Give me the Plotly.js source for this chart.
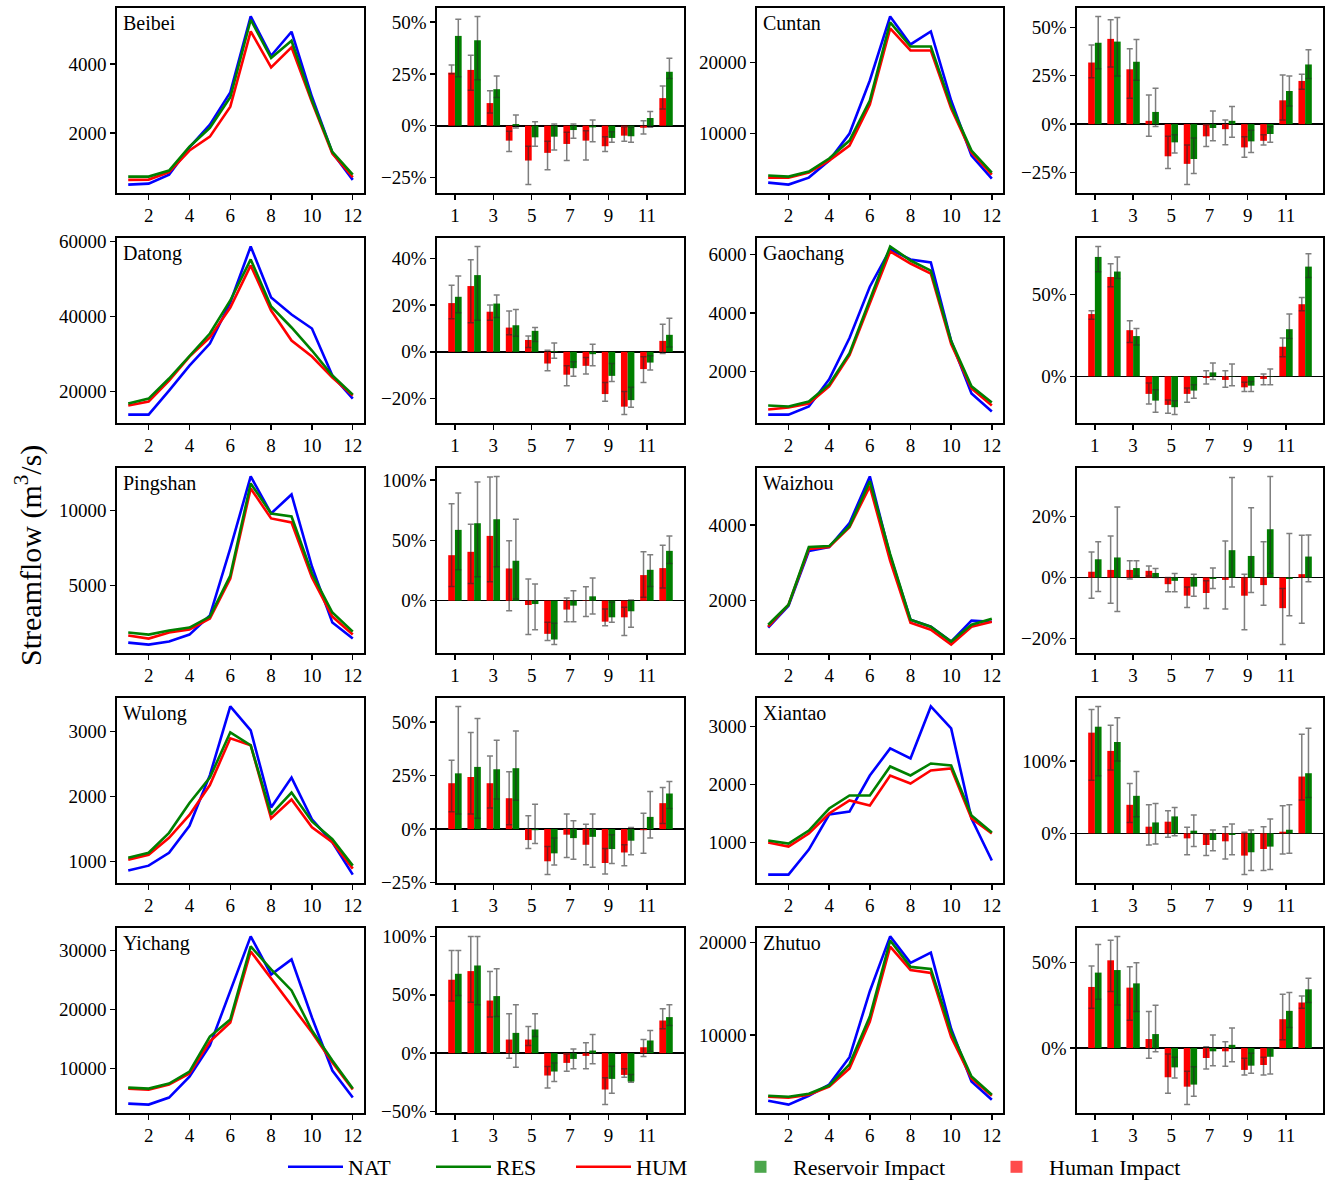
<!DOCTYPE html>
<html>
<head>
<meta charset="utf-8">
<script src="https://cdn.plot.ly/plotly-3.0.1.min.js"></script>
<style>html,body{margin:0;padding:0;background:#fff;}</style>
</head>
<body>
<div id="chart" style="width:1327px;height:1182px;"></div>
<script>
// Months on the x axis
const months = [1, 2, 3, 4, 5, 6, 7, 8, 9, 10, 11, 12];
const lineTicks = [2, 4, 6, 8, 10, 12];
const barTicks = [1, 3, 5, 7, 9, 11];
const stationNames = ['Beibei', 'Cuntan', 'Datong', 'Gaochang', 'Pingshan', 'Waizhou', 'Wulong', 'Xiantao', 'Yichang', 'Zhutuo'];

// Mean monthly streamflow (m3/s): natural (NAT), reservoir-regulated (RES), human-influenced (HUM)
const beibeiNAT = [502, 531, 792, 1585, 2242, 3179, 5382, 4241, 4937, 3050, 1430, 638];
const beibeiRES = [734, 734, 908, 1600, 2150, 3034, 5285, 4174, 4676, 2950, 1450, 792];
const beibeiHUM = [638, 647, 860, 1490, 1894, 2763, 4947, 3903, 4483, 2900, 1400, 715];

const cuntanNAT = [3100, 2820, 3800, 6200, 10000, 17470, 26480, 22540, 24370, 14650, 6900, 3660];
const cuntanRES = [4090, 3940, 4650, 6480, 9010, 14650, 25630, 22250, 22250, 13940, 7610, 4510];
const cuntanHUM = [3800, 3800, 4510, 6200, 8310, 14080, 24790, 21690, 21690, 13520, 7320, 4230];

const datongNAT = [13870, 13870, 20270, 26930, 32800, 43730, 58670, 45070, 40530, 36800, 24270, 18130];
const datongRES = [16800, 18130, 23470, 29600, 35470, 44270, 55200, 42670, 37070, 30930, 24270, 19200];
const datongHUM = [16270, 17330, 22930, 29330, 34400, 42400, 53600, 41600, 33600, 29330, 23730, 18930];

const gaochangNAT = [517, 517, 793, 1724, 3138, 4897, 6172, 5828, 5724, 3034, 1241, 621];
const gaochangRES = [828, 793, 966, 1552, 2621, 4414, 6276, 5793, 5448, 3034, 1483, 931];
const gaochangHUM = [690, 759, 897, 1483, 2552, 4310, 6103, 5690, 5345, 2931, 1414, 828];

const pingshanNAT = [1200, 1067, 1267, 1733, 3000, 7467, 12267, 9800, 11067, 6267, 2533, 1467];
const pingshanRES = [1867, 1733, 2000, 2200, 2933, 5667, 11800, 9800, 9600, 5800, 3200, 1933];
const pingshanHUM = [1667, 1467, 1867, 2067, 2800, 5467, 11467, 9467, 9200, 5533, 2933, 1733];

const waizhouNAT = [1289, 1868, 3316, 3421, 4053, 5289, 3184, 1500, 1316, 921, 1474, 1447];
const waizhouRES = [1368, 1895, 3421, 3447, 3974, 5158, 3237, 1500, 1316, 921, 1368, 1526];
const waizhouHUM = [1316, 1895, 3368, 3421, 3947, 5026, 3053, 1421, 1237, 842, 1316, 1447];

const wulongNAT = [863, 939, 1137, 1550, 2328, 3382, 3015, 1832, 2290, 1649, 1298, 802];
const wulongRES = [1061, 1137, 1443, 1901, 2290, 2985, 2786, 1725, 2061, 1618, 1344, 939];
const wulongHUM = [1031, 1107, 1366, 1718, 2176, 2893, 2786, 1664, 1954, 1527, 1298, 893];

const xiantaoNAT = [448, 448, 879, 1483, 1534, 2155, 2621, 2448, 3345, 2966, 1414, 690];
const xiantaoRES = [1034, 983, 1207, 1586, 1810, 1810, 2310, 2155, 2362, 2328, 1466, 1172];
const xiantaoHUM = [1000, 931, 1155, 1500, 1724, 1638, 2155, 2017, 2241, 2276, 1414, 1155];

const yichangNAT = [4070, 3900, 5090, 8640, 13900, 23220, 32370, 25930, 28480, 18640, 9660, 5090];
const yichangRES = [6780, 6610, 7460, 9490, 15420, 18310, 30680, 26780, 23220, 16440, 11360, 6610];
const yichangHUM = [6610, 6440, 7290, 9150, 14580, 17800, 29830, 25250, 20850, 16100, 11020, 6440];

const zhutuoNAT = [2860, 2450, 3410, 4620, 7580, 14730, 20660, 17800, 18900, 10660, 4950, 2970];
const zhutuoRES = [3410, 3300, 3630, 4510, 6810, 11980, 20220, 17360, 17140, 10330, 5500, 3520];
const zhutuoHUM = [3300, 3190, 3520, 4400, 6370, 11430, 19560, 17030, 16700, 9780, 5280, 3410];

// Relative impact on streamflow (%): mean with low / high bounds of the ensemble
const beibeiHumImp = [25.6, 26.9, 10.9, -7.2, -16.8, -13.1, -8.8, -7.2, -9.9, -4.8, -1.0, 13.3];
const beibeiHumLo  = [25.0, 17.1, 6.1, -12.5, -28.4, -21.3, -16.8, -16.5, -12.5, -7.5, -4.0, 8.0];
const beibeiHumHi  = [29.3, 34.0, 16.8, -2.7, -9.9, -7.5, -3.2, -2.4, -5.3, -0.5, 2.4, 19.2];
const beibeiResImp = [43.3, 41.2, 17.6, 0.8, -5.6, -5.3, -2.1, -0.8, -5.9, -5.1, 3.7, 26.0];
const beibeiResLo  = [23.6, 22.1, 13.6, -1.1, -9.9, -11.7, -6.1, -7.7, -8.0, -8.0, -0.8, 22.8];
const beibeiResHi  = [51.3, 52.7, 24.0, 5.1, 1.9, 0.8, 0.8, 2.7, -2.9, -0.8, 6.9, 32.5];

const cuntanHumImp = [31.8, 44.0, 28.3, 1.7, -16.6, -20.5, -6.3, -2.6, -12.0, -8.6, 12.3, 22.3];
const cuntanHumLo  = [24.0, 29.5, 13.4, -6.3, -22.9, -31.2, -11.6, -10.6, -17.1, -10.8, 2.1, 18.0];
const cuntanHumHi  = [40.8, 53.9, 38.9, 15.1, -6.3, -10.8, -0.3, 2.1, -6.5, -5.5, 25.3, 25.7];
const cuntanResImp = [42.0, 42.6, 32.2, 6.3, -9.4, -18.0, -2.0, 1.7, -8.9, -5.1, 17.1, 30.8];
const cuntanResLo  = [28.6, 24.8, 22.6, -1.2, -14.9, -25.5, -8.6, -6.8, -14.6, -9.4, 9.4, 23.6];
const cuntanResHi  = [55.6, 55.1, 43.7, 18.5, -5.5, -7.2, 6.8, 9.1, -3.1, -1.4, 24.8, 38.4];

const datongHumImp = [20.9, 28.2, 17.2, 10.4, 5.1, -5.0, -9.8, -6.0, -18.1, -23.5, -7.4, 4.7];
const datongHumLo  = [14.2, 12.5, 13.5, 7.3, 1.9, -8.1, -14.5, -9.5, -21.2, -26.9, -13.1, -0.7];
const datongHumHi  = [28.6, 39.5, 20.1, 17.5, 6.8, 0.7, -6.0, -2.4, -13.1, -17.0, -2.1, 11.8];
const datongResImp = [23.6, 32.9, 20.7, 11.4, 9.0, 0.3, -7.0, -1.0, -10.3, -20.7, -4.6, 7.3];
const datongResLo  = [16.8, 13.5, 14.7, 6.7, 4.4, -2.8, -10.5, -6.0, -12.7, -23.8, -7.8, 2.1];
const datongResHi  = [32.5, 45.2, 24.4, 18.2, 10.4, 3.8, -4.3, 3.3, -5.0, -15.2, -1.7, 14.4];

const gaochangHumImp = [37.9, 60.5, 28.1, -10.7, -17.4, -10.7, -1.0, -2.2, -6.7, -1.6, 18.0, 43.9];
const gaochangHumLo  = [34.8, 54.5, 20.6, -16.8, -22.5, -15.8, -4.7, -6.7, -9.3, -5.1, 11.9, 39.9];
const gaochangHumHi  = [39.9, 68.6, 33.8, -4.0, -14.4, -7.1, 3.4, 3.4, -3.6, 1.4, 23.3, 48.0];
const gaochangResImp = [72.7, 63.8, 24.5, -14.8, -18.8, -8.7, 2.4, -0.2, -5.7, 0.2, 28.7, 66.8];
const gaochangResLo  = [63.6, 59.5, 19.0, -21.9, -23.3, -13.4, -2.0, -5.7, -9.3, -5.1, 23.1, 60.1];
const gaochangResHi  = [79.1, 72.7, 29.1, -8.1, -14.8, -5.1, 8.1, 7.5, -3.2, 4.5, 37.9, 74.7];

const pingshanHumImp = [37.7, 40.5, 53.7, 26.7, -3.6, -27.5, -7.4, 0.3, -17.4, -13.8, 21.2, 27.0];
const pingshanHumLo  = [11.8, 14.3, 15.7, -8.3, -28.1, -33.1, -17.4, -13.2, -20.7, -28.9, 2.8, 10.5];
const pingshanHumHi  = [80.4, 63.4, 102.5, 49.6, 17.9, -17.9, 2.2, 11.6, -6.9, -5.5, 40.5, 46.0];
const pingshanResImp = [58.7, 64.2, 67.5, 33.1, -2.8, -32.2, -4.1, 3.6, -13.8, -8.8, 25.6, 41.3];
const pingshanResLo  = [25.6, 19.8, 28.1, 1.4, -24.2, -36.4, -17.4, -11.0, -17.9, -22.0, 11.8, 30.9];
const pingshanResHi  = [89.3, 98.3, 103.0, 67.5, 13.8, -18.7, 8.3, 18.7, -1.4, 0.6, 38.0, 53.7];

const waizhouHumImp = [1.9, 2.5, 2.5, 2.2, -2.2, -6.0, -5.1, -0.8, -6.0, -2.5, -10.1, 1.1];
const waizhouHumLo  = [-6.8, -8.5, -0.5, 0.5, -4.7, -9.9, -10.2, -10.4, -17.2, -9.1, -22.1, -15.1];
const waizhouHumHi  = [8.4, 13.7, 5.5, 3.8, 0.0, -3.1, -1.1, 12.0, 1.1, 11.8, -3.6, 13.9];
const waizhouResImp = [6.0, 6.6, 3.1, 1.5, -1.1, -3.0, -0.5, 9.0, 7.1, 15.9, -0.5, 6.9];
const waizhouResLo  = [-4.6, -11.2, 0.5, 0.0, -4.7, -6.2, -3.6, -3.1, -4.9, 1.3, -12.6, -1.4];
const waizhouResHi  = [11.8, 23.2, 5.5, 3.0, 1.3, 1.1, 3.1, 32.9, 23.0, 33.3, 14.5, 14.0];

const wulongHumImp = [21.4, 24.3, 21.4, 14.4, -5.1, -15.0, -2.6, -7.3, -15.8, -10.9, -0.5, 12.1];
const wulongHumLo  = [8.1, 7.0, 9.8, 2.0, -9.0, -21.2, -13.2, -16.6, -20.9, -17.1, -11.3, 2.6];
const wulongHumHi  = [32.1, 45.0, 34.1, 26.7, 6.2, -8.1, 7.0, 2.3, -9.0, -7.3, 7.4, 19.4];
const wulongResImp = [26.0, 29.0, 27.9, 28.4, -0.5, -11.3, -4.2, -3.6, -9.3, -5.4, 5.7, 16.6];
const wulongResLo  = [7.0, 5.1, 14.0, 13.5, -6.7, -16.7, -14.0, -17.8, -16.0, -11.9, -4.2, 9.6];
const wulongResHi  = [57.2, 51.6, 41.4, 45.7, 11.6, -4.2, 3.9, 7.0, -2.6, 0.8, 17.5, 22.2];

const xiantaoHumImp = [139.0, 113.8, 39.4, 9.2, 16.1, -6.9, -16.1, -11.0, -30.7, -21.6, 2.3, 78.4];
const xiantaoHumLo  = [73.4, 87.6, 15.1, -16.1, -5.5, -29.4, -30.7, -35.3, -56.9, -51.4, -28.4, 45.9];
const xiantaoHumHi  = [171.1, 149.1, 68.8, 39.4, 31.2, 8.3, -0.9, 9.2, 1.4, 9.2, 38.1, 136.7];
const xiantaoResImp = [147.2, 126.1, 51.8, 15.1, 23.4, 3.7, -9.2, -2.3, -26.1, -18.3, 5.0, 83.0];
const xiantaoResLo  = [79.4, 100.0, 22.9, -14.7, -3.2, -18.3, -23.9, -29.4, -51.4, -50.0, -27.5, 49.5];
const xiantaoResHi  = [175.2, 159.6, 85.3, 41.3, 35.8, 25.2, 4.6, 12.8, 4.6, 19.7, 39.4, 145.0];

const yichangHumImp = [62.9, 70.3, 45.1, 11.7, 11.7, -19.1, -8.3, -2.3, -31.1, -18.6, 5.1, 28.0];
const yichangHumLo  = [44.6, 43.7, 30.9, -4.3, 6.6, -29.7, -15.4, -13.4, -44.0, -20.6, -2.9, 20.9];
const yichangHumHi  = [88.0, 100.0, 70.0, 33.7, 22.9, -11.4, -0.6, 8.9, -21.1, -13.4, 11.7, 38.0];
const yichangResImp = [68.0, 75.1, 48.9, 17.4, 20.3, -15.7, -4.9, 2.3, -22.0, -24.3, 10.9, 30.9];
const yichangResLo  = [49.4, 41.4, 31.4, -12.0, 14.3, -24.3, -13.4, -9.1, -34.3, -24.9, 1.7, 23.7];
const yichangResHi  = [88.0, 100.0, 72.3, 41.4, 33.7, -8.3, 3.7, 16.0, -11.1, -18.3, 19.4, 41.4];

const zhutuoHumImp = [35.8, 51.4, 35.4, 5.3, -17.1, -22.6, -5.8, -1.9, -12.8, -9.9, 16.9, 26.7];
const zhutuoHumLo  = [23.3, 33.1, 16.3, -6.0, -26.5, -33.1, -12.3, -10.7, -15.8, -15.8, 4.9, 23.3];
const zhutuoHumHi  = [48.1, 63.2, 47.7, 21.4, -3.5, -13.6, 0.8, 3.7, -6.0, -5.4, 31.5, 30.5];
const zhutuoResImp = [44.2, 45.7, 37.9, 8.2, -11.3, -21.4, -1.9, 1.9, -10.3, -5.1, 21.8, 34.4];
const zhutuoResLo  = [28.6, 25.3, 21.4, -2.1, -17.5, -28.2, -10.3, -8.0, -14.8, -15.2, 12.1, 26.7];
const zhutuoResHi  = [60.7, 65.4, 50.0, 25.1, -5.4, -10.9, 7.6, 11.7, -3.1, 0.0, 32.5, 40.9];

// Per-station table assembled from the arrays above
const stations = [
  {nat: beibeiNAT, res: beibeiRES, hum: beibeiHUM, hI: beibeiHumImp, hL: beibeiHumLo, hH: beibeiHumHi, rI: beibeiResImp, rL: beibeiResLo, rH: beibeiResHi, qStep: 2000, pStep: 25},
  {nat: cuntanNAT, res: cuntanRES, hum: cuntanHUM, hI: cuntanHumImp, hL: cuntanHumLo, hH: cuntanHumHi, rI: cuntanResImp, rL: cuntanResLo, rH: cuntanResHi, qStep: 10000, pStep: 25},
  {nat: datongNAT, res: datongRES, hum: datongHUM, hI: datongHumImp, hL: datongHumLo, hH: datongHumHi, rI: datongResImp, rL: datongResLo, rH: datongResHi, qStep: 20000, pStep: 20},
  {nat: gaochangNAT, res: gaochangRES, hum: gaochangHUM, hI: gaochangHumImp, hL: gaochangHumLo, hH: gaochangHumHi, rI: gaochangResImp, rL: gaochangResLo, rH: gaochangResHi, qStep: 2000, pStep: 50},
  {nat: pingshanNAT, res: pingshanRES, hum: pingshanHUM, hI: pingshanHumImp, hL: pingshanHumLo, hH: pingshanHumHi, rI: pingshanResImp, rL: pingshanResLo, rH: pingshanResHi, qStep: 5000, pStep: 50},
  {nat: waizhouNAT, res: waizhouRES, hum: waizhouHUM, hI: waizhouHumImp, hL: waizhouHumLo, hH: waizhouHumHi, rI: waizhouResImp, rL: waizhouResLo, rH: waizhouResHi, qStep: 2000, pStep: 20},
  {nat: wulongNAT, res: wulongRES, hum: wulongHUM, hI: wulongHumImp, hL: wulongHumLo, hH: wulongHumHi, rI: wulongResImp, rL: wulongResLo, rH: wulongResHi, qStep: 1000, pStep: 25},
  {nat: xiantaoNAT, res: xiantaoRES, hum: xiantaoHUM, hI: xiantaoHumImp, hL: xiantaoHumLo, hH: xiantaoHumHi, rI: xiantaoResImp, rL: xiantaoResLo, rH: xiantaoResHi, qStep: 1000, pStep: 100},
  {nat: yichangNAT, res: yichangRES, hum: yichangHUM, hI: yichangHumImp, hL: yichangHumLo, hH: yichangHumHi, rI: yichangResImp, rL: yichangResLo, rH: yichangResHi, qStep: 10000, pStep: 50},
  {nat: zhutuoNAT, res: zhutuoRES, hum: zhutuoHUM, hI: zhutuoHumImp, hL: zhutuoHumLo, hH: zhutuoHumHi, rI: zhutuoResImp, rL: zhutuoResLo, rH: zhutuoResHi, qStep: 10000, pStep: 50}
];

const COLORS = {nat: '#0000ff', res: '#008000', hum: '#ff0000'};
const FONT = 'Liberation Serif, "Times New Roman", Times, serif';
const W = 1327, H = 1182;
// Panel boxes in pixels: columns alternate streamflow / impact panels
const colPx = [[117, 364], [437, 684], [757, 1003], [1077, 1323]];
const rowPx = [[8, 193], [238, 423], [468, 653], [698, 883], [928, 1113]];
const BAR_W = 0.35;

function padRange(values) {
  const lo = Math.min(...values), hi = Math.max(...values);
  const m = 0.05 * (hi - lo);
  return [lo - m, hi + m];
}

const baseAxis = {
  showline: true, mirror: true, linecolor: '#000', linewidth: 1.6,
  ticks: 'outside', ticklen: 5, tickwidth: 1.4, tickcolor: '#000',
  showgrid: false, zeroline: false, autorange: false,
  tickfont: {family: FONT, size: 19, color: '#000'}
};

const data = [];
const layout = {
  width: W, height: H,
  margin: {l: 0, r: 0, t: 0, b: 0, autoexpand: false},
  paper_bgcolor: '#fff', plot_bgcolor: '#fff',
  barmode: 'overlay',
  showlegend: true,
  annotations: [],
  font: {family: FONT, color: '#000'}
};

function axId(n, letter) { return n === 1 ? letter : letter + n; }
function axKey(n, letter) { return (letter === 'x' ? 'xaxis' : 'yaxis') + (n === 1 ? '' : n); }

stations.forEach((s, i) => {
  const row = Math.floor(i / 2);
  const pair = i % 2;
  const nLine = 2 * i + 1, nBar = 2 * i + 2;
  const yDom = [1 - rowPx[row][1] / H, 1 - rowPx[row][0] / H];
  const lineCol = colPx[2 * pair], barCol = colPx[2 * pair + 1];

  // Streamflow hydrographs
  const xl = axId(nLine, 'x'), yl = axId(nLine, 'y');
  [['nat', s.nat], ['hum', s.hum], ['res', s.res]].forEach(([k, arr]) => {
    data.push({
      type: 'scatter', mode: 'lines', x: months, y: arr, xaxis: xl, yaxis: yl,
      line: {color: COLORS[k], width: 2.6}, showlegend: false, hoverinfo: 'skip'
    });
  });
  layout[axKey(nLine, 'x')] = Object.assign({}, baseAxis, {
    domain: [lineCol[0] / W, lineCol[1] / W], anchor: yl,
    range: [0.45, 12.55], tickmode: 'array', tickvals: lineTicks
  });
  layout[axKey(nLine, 'y')] = Object.assign({}, baseAxis, {
    domain: yDom, anchor: xl,
    range: padRange(s.nat.concat(s.res, s.hum)),
    tick0: 0, dtick: s.qStep, tickformat: 'd'
  });
  layout.annotations.push({
    xref: xl + ' domain', yref: yl + ' domain', x: 0, y: 1,
    xanchor: 'left', yanchor: 'top', xshift: 4, yshift: -2,
    text: stationNames[i], showarrow: false,
    font: {family: FONT, size: 20, color: '#000'}
  });

  // Impact bars with ensemble ranges
  const xb = axId(nBar, 'x'), yb = axId(nBar, 'y');
  const addBars = (vals, lo, hi, color, offset) => {
    data.push({
      type: 'bar', x: months, y: vals, xaxis: xb, yaxis: yb,
      offset: offset, width: BAR_W,
      marker: {color: color, line: {width: 0}},
      error_y: {
        type: 'data', symmetric: false,
        array: hi.map((h, k) => Math.max(0, h - vals[k])),
        arrayminus: lo.map((l, k) => Math.max(0, vals[k] - l)),
        color: 'rgba(40,40,40,0.6)', thickness: 1.5, width: 3
      },
      showlegend: false, hoverinfo: 'skip'
    });
  };
  addBars(s.hI, s.hL, s.hH, COLORS.hum, -BAR_W);
  addBars(s.rI, s.rL, s.rH, COLORS.res, 0);
  layout[axKey(nBar, 'x')] = Object.assign({}, baseAxis, {
    domain: [barCol[0] / W, barCol[1] / W], anchor: yb,
    range: [0.65 - 0.585, 12.35 + 0.585], tickmode: 'array', tickvals: barTicks
  });
  layout[axKey(nBar, 'y')] = Object.assign({}, baseAxis, {
    domain: yDom, anchor: xb,
    range: padRange(s.hL.concat(s.hH, s.rL, s.rH)),
    tick0: 0, dtick: s.pStep, tickformat: 'd', ticksuffix: '%',
    zeroline: true, zerolinecolor: '#000', zerolinewidth: 1.6
  });
});

// Legend row: one single-entry legend per item so each can sit at its own place
const legendItems = [
  {name: 'NAT', kind: 'line', color: COLORS.nat, left: 283},
  {name: 'RES', kind: 'line', color: COLORS.res, left: 431},
  {name: 'HUM', kind: 'line', color: COLORS.hum, left: 571},
  {name: 'Reservoir Impact', kind: 'bar', color: 'rgba(0,128,0,0.7)', left: 728},
  {name: 'Human Impact', kind: 'bar', color: 'rgba(255,0,0,0.7)', left: 984}
];
legendItems.forEach((it, k) => {
  const key = k === 0 ? 'legend' : 'legend' + (k + 1);
  const trace = it.kind === 'line'
    ? {type: 'scatter', mode: 'lines', line: {color: it.color, width: 2.6}}
    : {type: 'bar', marker: {color: it.color}};
  data.push(Object.assign(trace, {x: [null], y: [null], name: it.name, legend: key,
    xaxis: 'x', yaxis: 'y', hoverinfo: 'skip'}));
  layout[key] = {
    orientation: 'h', x: it.left / W, xanchor: 'left', y: 1 - 1167 / H, yanchor: 'middle',
    font: {family: FONT, size: 22, color: '#000'}, bgcolor: 'rgba(0,0,0,0)',
    itemwidth: 55
  };
});

// Shared y-axis title
layout.annotations.push({
  xref: 'paper', yref: 'paper', x: 28 / W, y: 1 - 556 / H,
  xanchor: 'center', yanchor: 'middle', textangle: -90, showarrow: false,
  text: 'Streamflow (m<sup>3</sup>/s)',
  font: {family: FONT, size: 30, color: '#000'}
});

Plotly.newPlot('chart', data, layout, {displayModeBar: false, staticPlot: true});
</script>
</body>
</html>
